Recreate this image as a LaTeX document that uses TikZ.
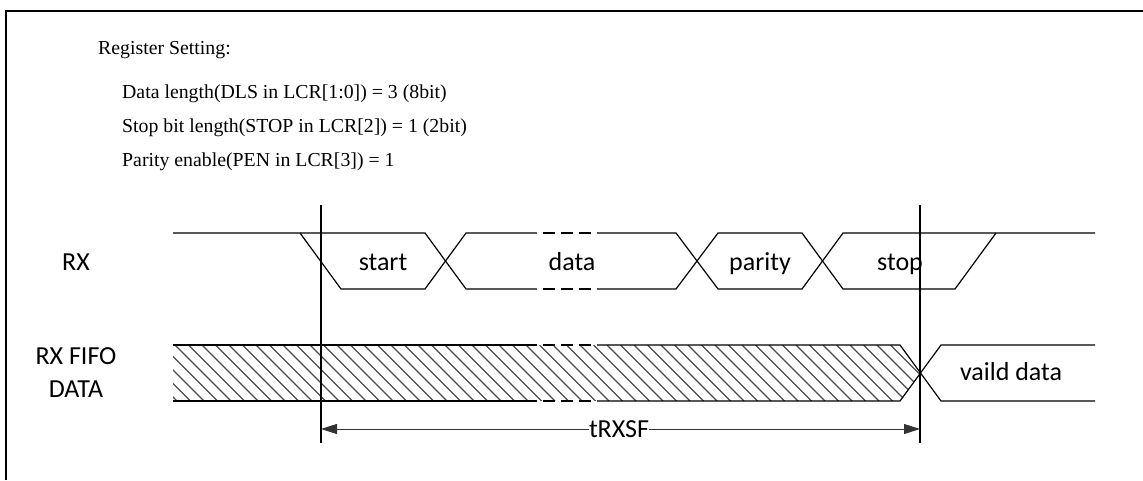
\documentclass[tikz,border=0pt]{standalone}
\usepackage{fontspec}
\setmainfont{Liberation Serif}
\newfontfamily\labelfont{Carlito}
\usetikzlibrary{arrows.meta}
\tikzset{
	wave/.style={line width=1.2pt, line join=miter},
	gapdash/.style={line width=1.2pt, dash pattern=on 12pt off 6pt, dash phase=12pt},
	marker/.style={line width=1.2pt},
	hatch/.style={draw=black!70, line width=1.4pt},
	siglabel/.style={font=\labelfont\fontsize{26}{31}\selectfont, inner sep=0pt, anchor=base},
	setting/.style={font=\fontsize{19.8}{24}\selectfont, inner sep=0pt, anchor=base west},
	dimline/.style={line width=0.9pt, draw=black!80}
}

\begin{document}
\begin{tikzpicture}[x=1pt, y=-1pt]
	\useasboundingbox (0,0) rectangle (1143,480);
	\draw[line width=2pt] (6,480) -- (6,11) -- (1143,11);
	% register setting
	\node[setting] (reg) at (98,54) {Register Setting:};
	\node[setting] (dls) at (122,98) {Data length(DLS in LCR[1:0]) = 3 (8bit)};
	\node[setting] (stopbit) at (122,132) {Stop bit length(STOP in LCR[2]) = 1 (2bit)};
	\node[setting] (pen) at (122,166) {Parity enable(PEN in LCR[3]) = 1};
	% signal names
	\node[siglabel] (rx) at (76,270) {RX};
	\node[siglabel] (fifoa) at (76,364) {RX FIFO};
	\node[siglabel] (fifob) at (76,397) {DATA};
	% RX line
	\draw[wave] (173,233) -- (425,233) -- (466,289) -- (537,289);
	\draw[wave] (300,233) -- (341,289) -- (425,289) -- (466,233) -- (537,233);
	\draw[gapdash] (537,233) -- (597,233) (537,289) -- (597,289);
	\draw[wave] (597,233) -- (676,233) -- (718,289) -- (802,289) -- (843,233) -- (1095,233);
	\draw[wave] (597,289) -- (676,289) -- (718,233) -- (802,233) -- (843,289) -- (955,289) -- (996,233);
	\node[siglabel] (start) at (383,270) {start};
	\node[siglabel] (data) at (572,270) {data};
	\node[siglabel] (parity) at (760,270) {parity};
	\node[siglabel] (stop) at (900,270) {stop};
	% RX FIFO DATA
	\begin{scope}
		\clip (173,345) -- (900,345) -- (920,373) -- (900,401) -- (173,401) -- cycle;
		\foreach \x in {107.5,121,...,930}
			\draw[hatch] (\x,345) -- (\x+56,401);
	\end{scope}
	\draw[wave] (173,345) -- (537,345) (173,401) -- (537,401);
	\draw[gapdash] (537,345) -- (597,345) (537,401) -- (597,401);
	\draw[wave] (597,345) -- (900,345) -- (941,401) -- (1095,401);
	\draw[wave] (597,401) -- (900,401) -- (941,345) -- (1095,345);
	\node[siglabel] (valid) at (1011,380) {vaild data};
	% timing markers
	\coordinate (m0top) at (321,205);
	\coordinate (m0bot) at (321,443);
	\coordinate (m1top) at (920,205);
	\coordinate (m1bot) at (920,443);
	\draw[marker] (m0top) -- (m0bot);
	\draw[marker] (m1top) -- (m1bot);
	\coordinate (t0) at (321,429);
	\coordinate (t1) at (920,429);
	\node[siglabel] (trxsf) at (619,437) {tRXSF};
	\draw[dimline, {Triangle[length=16pt,width=10pt]}-] (t0) -- (t0 -| trxsf.west);
	\draw[dimline, -{Triangle[length=16pt,width=10pt]}] (t1 -| trxsf.east) -- (t1);
\end{tikzpicture}
\end{document}
